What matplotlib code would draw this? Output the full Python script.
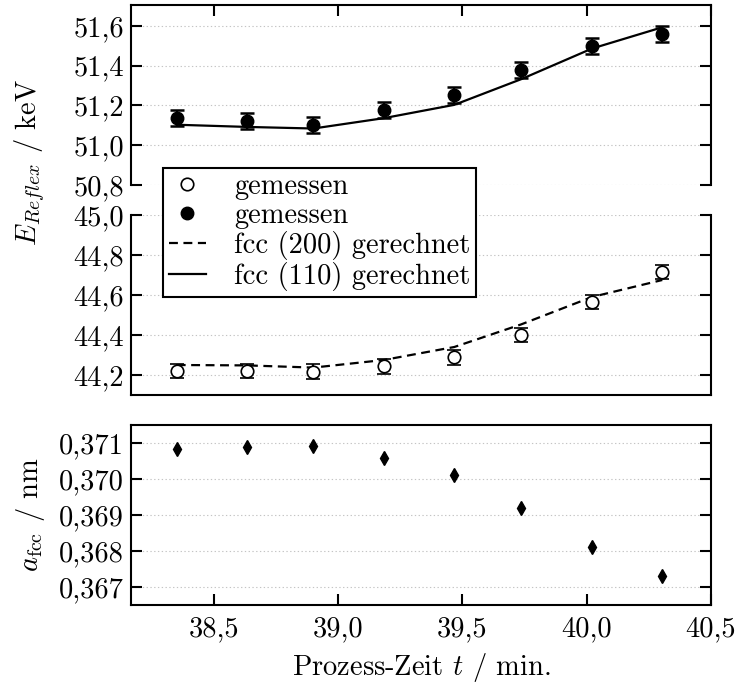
import matplotlib
matplotlib.use("Agg")
import matplotlib.pyplot as plt
from matplotlib.ticker import FuncFormatter, FixedLocator

plt.rcParams['font.family'] = 'serif'
plt.rcParams['font.serif'] = ['cmr10']
plt.rcParams['mathtext.fontset'] = 'cm'
plt.rcParams['axes.unicode_minus'] = False

TICK = 20.5
LABEL = 20.5

# Messzeitpunkte
zeit = [38.35, 38.633, 38.90, 39.183, 39.467, 39.736, 40.021, 40.304]

# fcc (110) Reflex: gemessen und gerechnet
e110_mess = [51.136, 51.123, 51.103, 51.178, 51.253, 51.379, 51.501, 51.560]
e110_err = [0.04] * 8
e110_rech = [51.103, 51.092, 51.084, 51.136, 51.203, 51.332, 51.486, 51.593]

# fcc (200) Reflex: gemessen und gerechnet
e200_mess = [44.220, 44.220, 44.217, 44.243, 44.288, 44.400, 44.566, 44.716]
e200_err = [0.036] * 8
e200_rech = [44.250, 44.248, 44.237, 44.275, 44.340, 44.453, 44.590, 44.675]

# Gitterparameter
a_fcc = [0.37083, 0.37088, 0.37093, 0.37059, 0.37010, 0.36920, 0.36810, 0.36730]

W, H = 735, 693
fig = plt.figure(figsize=(W / 100, H / 100), dpi=100)

left, right = 131 / W, 711 / W
ax1 = fig.add_axes([left, 1 - 185 / H, right - left, 180 / H])
ax2 = fig.add_axes([left, 1 - 395 / H, right - left, 180 / H])
ax3 = fig.add_axes([left, 1 - 605 / H, right - left, 180 / H])


def komma(fmt):
    return FuncFormatter(lambda v, p: (fmt % v).replace('.', ','))


for ax in (ax1, ax2, ax3):
    ax.set_xlim(38.166, 40.5)
    ax.xaxis.set_major_locator(FixedLocator([38.5, 39.0, 39.5, 40.0, 40.5]))
    ax.xaxis.set_major_formatter(komma('%.1f'))
    for s in ax.spines.values():
        s.set_linewidth(1.5)
    ax.tick_params(direction='in', length=8, width=1.5, left=True, right=True,
                   labelsize=TICK, pad=5)
    ax.yaxis.grid(True, linestyle=(0, (1.2, 2.2)), color='#c4c4c4', linewidth=0.8)
    ax.set_axisbelow(True)

ax1.set_ylim(50.8, 51.705)
ax1.set_yticks([50.8, 51.0, 51.2, 51.4, 51.6])
ax1.yaxis.set_major_formatter(komma('%.1f'))
ax1.spines['bottom'].set_visible(False)
ax1.tick_params(axis='x', top=True, bottom=False, labelbottom=False, labeltop=False)

ax2.set_ylim(44.1, 45.0)
ax2.set_yticks([44.2, 44.4, 44.6, 44.8, 45.0])
ax2.yaxis.set_major_formatter(komma('%.1f'))
ax2.spines['top'].set_visible(False)
ax2.tick_params(axis='x', top=False, bottom=False, labelbottom=False)

ax3.set_ylim(0.3665, 0.3715)
ax3.set_yticks([0.367, 0.368, 0.369, 0.370, 0.371])
ax3.yaxis.set_major_formatter(komma('%.3f'))
ax3.tick_params(axis='x', top=False, bottom=True, pad=8)

# obere Reflexe (110)
ax1.errorbar(zeit, e110_mess, yerr=e110_err, fmt='o', color='black', ms=9,
             capsize=5, capthick=1.8, elinewidth=1.5, zorder=3)
ax1.plot(zeit, e110_rech, '-', color='black', lw=1.6, zorder=2)

# untere Reflexe (200)
ax2.errorbar(zeit, e200_mess, yerr=e200_err, fmt='o', mfc='white', mec='black',
             mew=1.2, color='black', ms=9, capsize=5, capthick=1.8,
             elinewidth=1.5, zorder=3)
ax2.plot(zeit, e200_rech, color='black', lw=1.6, dashes=(4, 2.5), zorder=2)

ax3.plot(zeit, a_fcc, 'd', color='black', ms=7)

# Legende
h_offen, = ax2.plot([], [], 'o', mfc='white', mec='black', mew=1.2, ms=9)
h_voll, = ax1.plot([], [], 'o', color='black', ms=9)
h_200, = ax2.plot([], [], color='black', lw=1.6, dashes=(4, 2.5))
h_110, = ax1.plot([], [], '-', color='black', lw=1.6)
leg = fig.legend([h_offen, h_voll, h_200, h_110],
                 ['gemessen', 'gemessen', 'fcc (200) gerechnet', 'fcc (110) gerechnet'],
                 loc='upper left', bbox_to_anchor=(163 / W, 1 - 168 / H),
                 borderaxespad=0, fancybox=False, framealpha=1, edgecolor='black',
                 handlelength=1.3, handletextpad=1.0, labelspacing=0.08,
                 borderpad=0.2, fontsize=TICK)
leg.get_frame().set_linewidth(1.5)

fig.text(30 / W, 1 - 162 / H, r'$E_{Reflex}$ / keV', rotation=90,
         ha='center', va='center', fontsize=LABEL)
fig.text(31 / W, 1 - 515 / H, r'$a_{\rm fcc}$ / nm', rotation=90,
         ha='center', va='center', fontsize=LABEL)
fig.text(421 / W, 1 - 667 / H, r'Prozess-Zeit $t$ / min.',
         ha='center', va='center', fontsize=TICK)

fig.savefig('out.png', dpi=100)
